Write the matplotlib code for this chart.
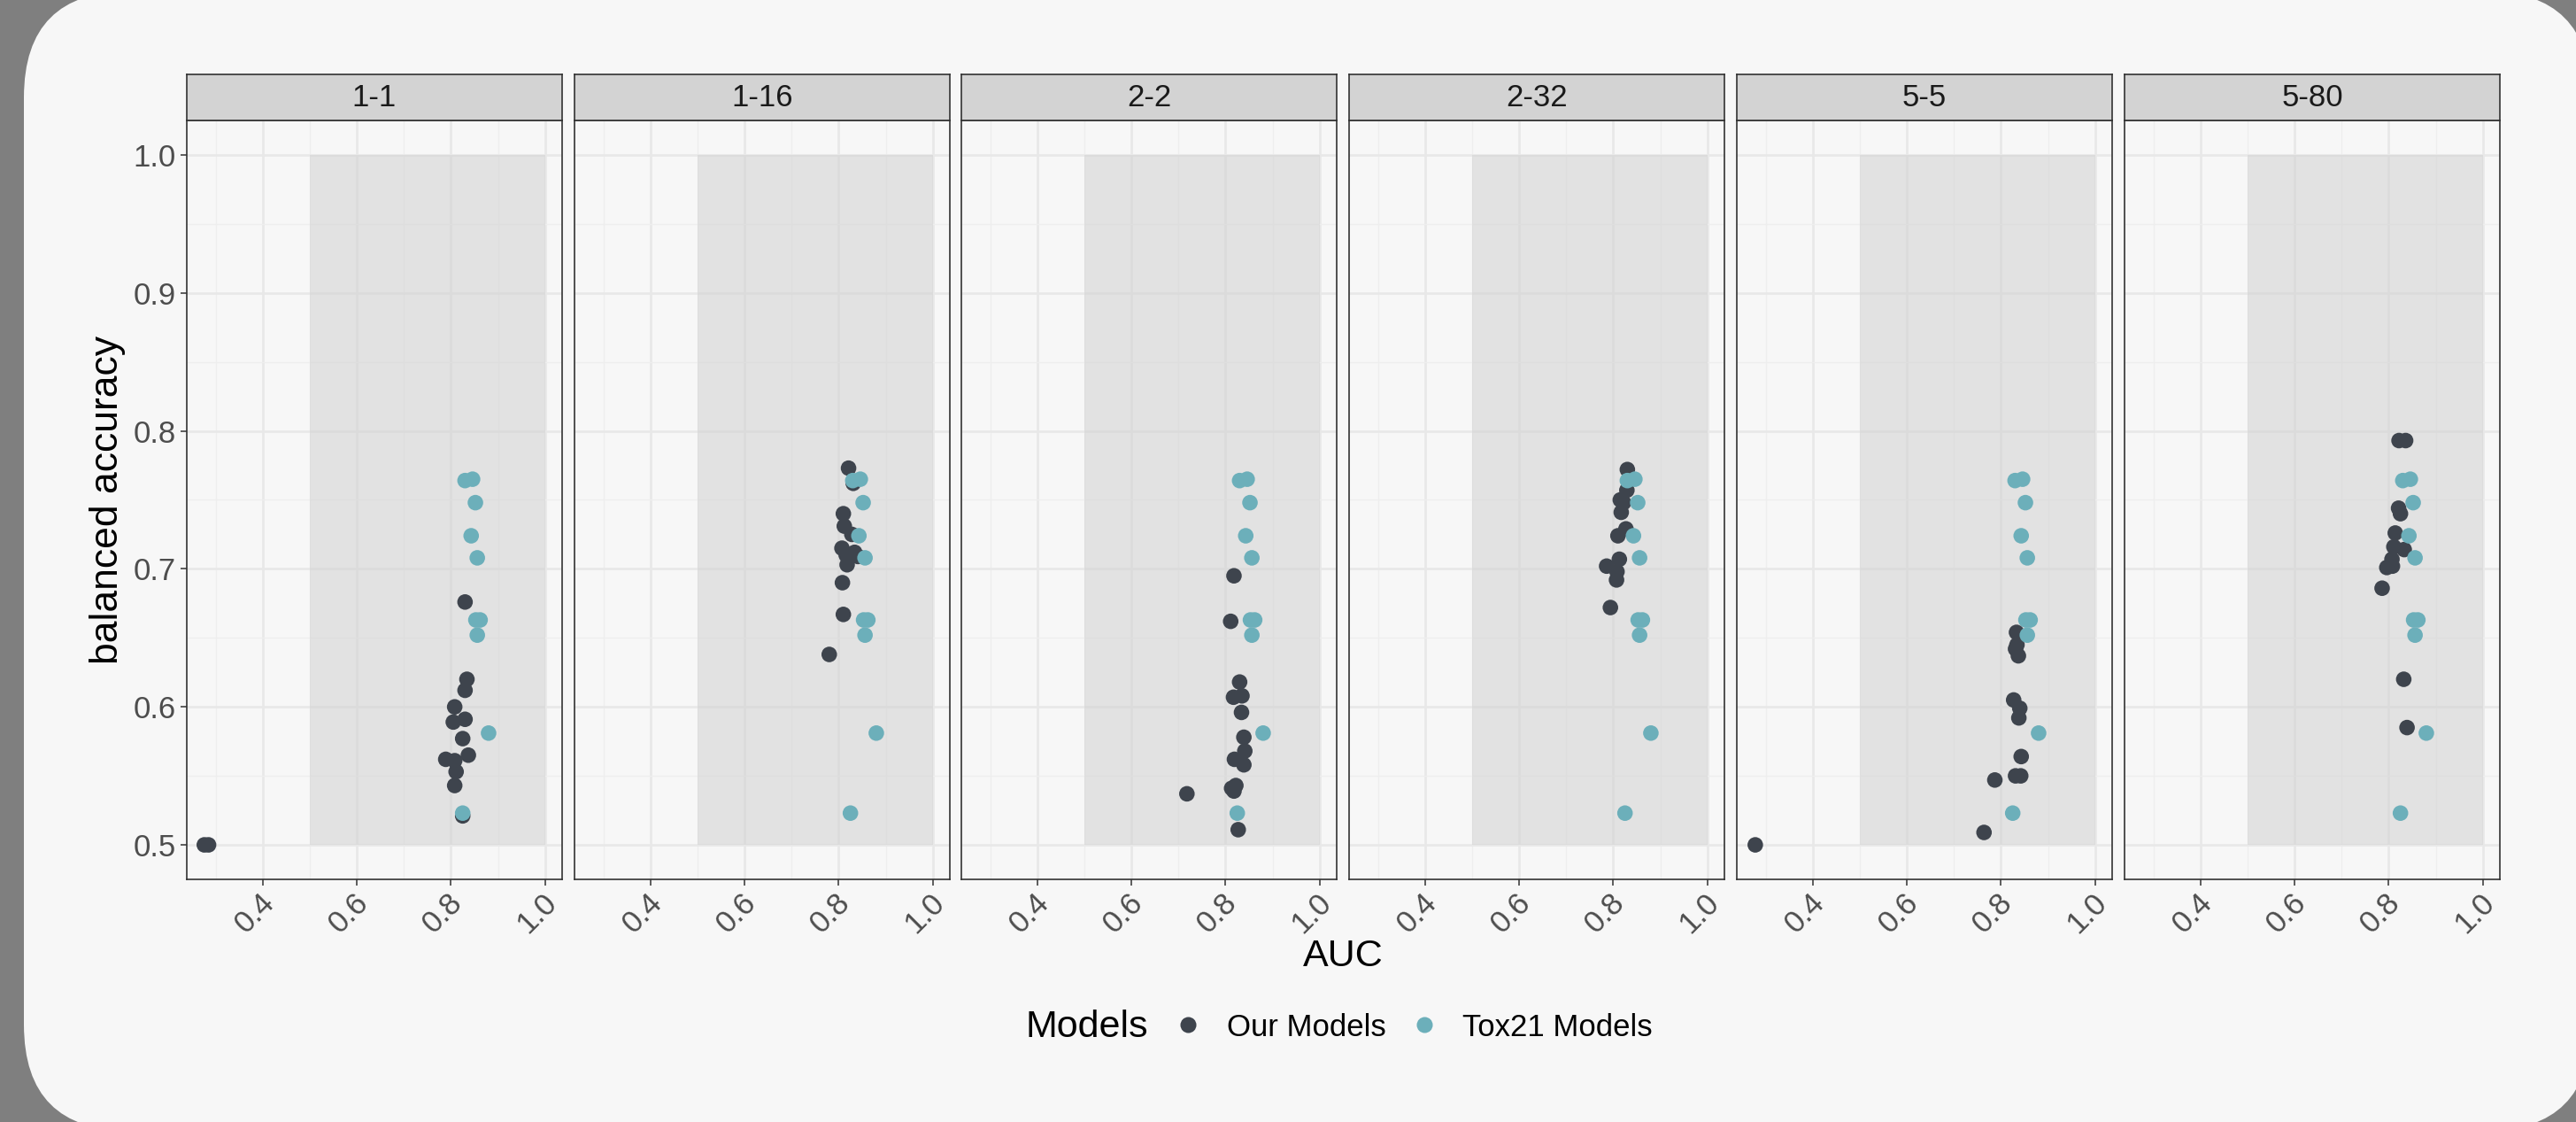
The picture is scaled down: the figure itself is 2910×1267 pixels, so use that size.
import matplotlib
matplotlib.use("Agg")
import matplotlib.pyplot as plt
from matplotlib.patches import FancyBboxPatch, Rectangle
from matplotlib.lines import Line2D
from matplotlib.transforms import ScaledTranslation

plt.rcParams['font.family'] = ['Liberation Sans', 'DejaVu Sans']

# facets
panels = ["1-1", "1-16", "2-2", "2-32", "5-5", "5-80"]

# Our Models, per facet (AUC, balanced accuracy)
our_x = {
    "1-1": [0.276, 0.285, 0.830, 0.834, 0.830, 0.808, 0.805, 0.830, 0.825, 0.837, 0.789, 0.808, 0.811, 0.808, 0.825],
    "1-16": [0.821, 0.831, 0.810, 0.812, 0.828, 0.807, 0.834, 0.841, 0.818, 0.816, 0.808, 0.810, 0.780],
    "2-2": [0.818, 0.811, 0.830, 0.817, 0.835, 0.834, 0.839, 0.841, 0.819, 0.839, 0.813, 0.822, 0.818, 0.718, 0.827],
    "2-32": [0.830, 0.829, 0.815, 0.822, 0.817, 0.827, 0.810, 0.813, 0.786, 0.808, 0.807, 0.794],
    "5-5": [0.278, 0.833, 0.834, 0.831, 0.837, 0.827, 0.840, 0.838, 0.843, 0.787, 0.831, 0.842, 0.764],
    "5-80": [0.822, 0.836, 0.821, 0.825, 0.814, 0.811, 0.833, 0.807, 0.796, 0.808, 0.786, 0.832, 0.839],
}
our_y = {
    "1-1": [0.500, 0.500, 0.676, 0.620, 0.612, 0.600, 0.589, 0.591, 0.577, 0.565, 0.562, 0.561, 0.553, 0.543, 0.521],
    "1-16": [0.773, 0.762, 0.740, 0.731, 0.725, 0.715, 0.712, 0.709, 0.703, 0.710, 0.690, 0.667, 0.638],
    "2-2": [0.695, 0.662, 0.618, 0.607, 0.608, 0.596, 0.578, 0.568, 0.562, 0.558, 0.541, 0.543, 0.539, 0.537, 0.511],
    "2-32": [0.772, 0.757, 0.750, 0.748, 0.741, 0.729, 0.724, 0.707, 0.702, 0.698, 0.692, 0.672],
    "5-5": [0.500, 0.654, 0.645, 0.642, 0.637, 0.605, 0.599, 0.592, 0.564, 0.547, 0.550, 0.550, 0.509],
    "5-80": [0.793, 0.793, 0.744, 0.740, 0.726, 0.716, 0.714, 0.707, 0.701, 0.702, 0.686, 0.620, 0.585],
}

# Tox21 Models (same in every facet)
tox_x = [0.830, 0.846, 0.852, 0.843, 0.856, 0.853, 0.862, 0.856, 0.880, 0.825]
tox_y = [0.764, 0.765, 0.748, 0.724, 0.708, 0.663, 0.663, 0.652, 0.581, 0.523]

x_ticks = [0.4, 0.6, 0.8, 1.0]
y_ticks = [0.5, 0.6, 0.7, 0.8, 0.9, 1.0]

c_our = '#3e444d'
c_tox = '#6cafba'
bg = '#f7f7f7'

W, H = 2910, 1267
fig = plt.figure(figsize=(W / 100, H / 100), dpi=100)
fig.patch.set_facecolor('#7f7f7f')

# rounded light card behind everything
bg_ax = fig.add_axes([0, 0, 1, 1], zorder=-1)
bg_ax.set_xlim(0, W)
bg_ax.set_ylim(H, 0)
bg_ax.axis('off')
bg_ax.add_patch(FancyBboxPatch((27, -10), 2900, 1287, boxstyle="round,pad=0,rounding_size=120",
                               facecolor=bg, edgecolor='none'))

lefts = [211, 649, 1086, 1524, 1962, 2400]
pw = 424
top, bot = 136, 993
strip_h = 52

for i, name in enumerate(panels):
    ax = fig.add_axes([lefts[i] / W, (H - bot) / H, pw / W, (bot - top) / H])
    ax.set_facecolor(bg)
    ax.set_xlim(0.23875, 1.03625)
    ax.set_ylim(0.475, 1.025)
    ax.set_xticks(x_ticks)
    ax.set_xticks([0.3, 0.5, 0.7, 0.9], minor=True)
    ax.set_yticks(y_ticks)
    ax.set_yticks([0.55, 0.65, 0.75, 0.85, 0.95], minor=True)
    ax.set_axisbelow(True)
    ax.grid(which='major', color='#e8e8e8', linewidth=1.9)
    ax.grid(which='minor', color='#eeeeee', linewidth=1.0)
    for s in ax.spines.values():
        s.set_color('#333333')
        s.set_linewidth(1.2)
    ax.tick_params(which='minor', length=0)
    ax.tick_params(which='major', length=5, width=1.1, color='#333333',
                   labelsize=25, labelcolor='#4d4d4d')
    ax.set_xticklabels(["%.1f" % v for v in x_ticks], rotation=45, ha='right', va='center',
                       rotation_mode='anchor')
    ax.tick_params(axis='x', pad=10)
    # nudge rotated labels a bit right, like ggplot's hjust
    for lab in ax.get_xticklabels():
        lab.set_transform(lab.get_transform() + ScaledTranslation(0.08, 0, fig.dpi_scale_trans))
    if i == 0:
        ax.set_yticklabels(["%.1f" % v for v in y_ticks])
        ax.tick_params(axis='y', pad=4)
    else:
        ax.tick_params(axis='y', length=0, labelleft=False)

    ax.add_patch(Rectangle((0.5, 0.5), 0.5, 0.5, facecolor='#cfcfcf', alpha=0.5,
                           edgecolor='none', zorder=1))
    ax.scatter(our_x[name], our_y[name], s=160, color=c_our, edgecolors='none', zorder=2)
    ax.scatter(tox_x, tox_y, s=160, color=c_tox, edgecolors='none', zorder=3)

    sax = fig.add_axes([lefts[i] / W, (H - top) / H, pw / W, strip_h / H])
    sax.set_facecolor('#d3d3d3')
    sax.set_xticks([])
    sax.set_yticks([])
    for s in sax.spines.values():
        s.set_color('#333333')
        s.set_linewidth(1.2)
    sax.text(0.5, 0.5, name, ha='center', va='center', fontsize=25, color='#1a1a1a',
             transform=sax.transAxes)

fig.text(122 / W, 1 - (top + bot) / 2 / H, "balanced accuracy", rotation=90,
         ha='center', va='center', fontsize=32, color='black')
fig.text(1517 / W, 1 - 1080 / H, "AUC", ha='center', va='center', fontsize=31, color='black')

# legend
fig.text(1228 / W, 1 - 1160 / H, "Models", ha='center', va='center', fontsize=31, color='black')
handles = [Line2D([], [], linestyle='none', marker='o', markersize=13, color=c_our, markeredgewidth=0),
           Line2D([], [], linestyle='none', marker='o', markersize=13, color=c_tox, markeredgewidth=0)]
fig.legend(handles, ["Our Models", "Tox21 Models"], ncol=2, loc='center left',
           bbox_to_anchor=(1325 / W, 1 - 1160 / H), frameon=False, fontsize=25,
           handlelength=1.0, handletextpad=0.75, columnspacing=0.75,
           borderpad=0, borderaxespad=0)

fig.savefig('out.png', dpi=100, facecolor=fig.get_facecolor())
